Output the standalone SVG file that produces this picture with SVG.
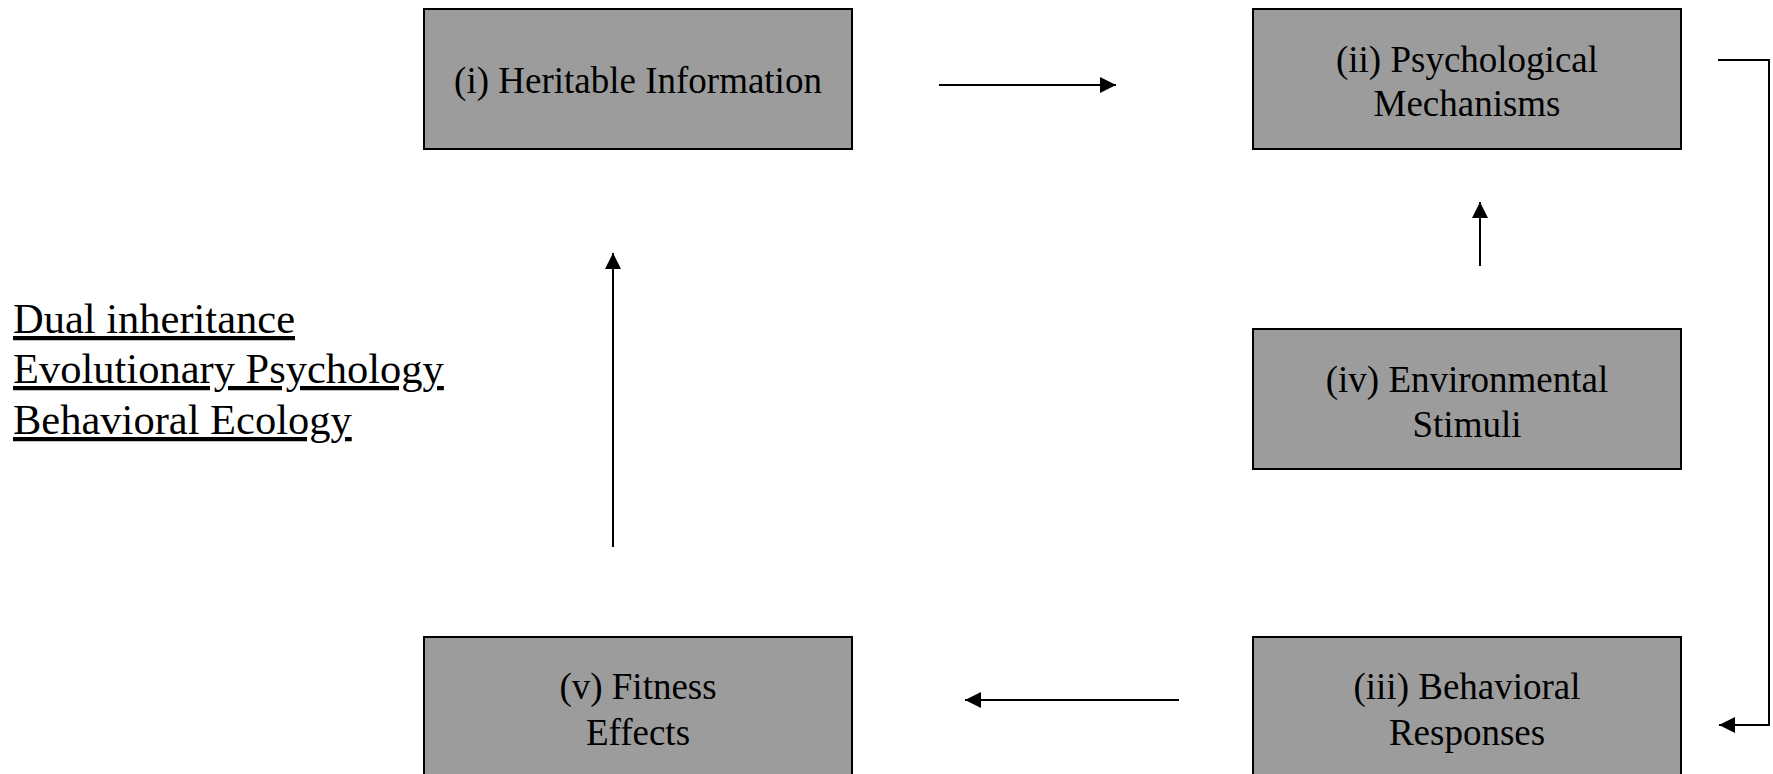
<svg xmlns="http://www.w3.org/2000/svg" width="1773" height="774" viewBox="0 0 1773 774">
<style>
.box{fill:#9c9c9c;stroke:#000;stroke-width:2}
.t{font-family:"Liberation Serif","Times New Roman",serif;font-size:37px;fill:#000;text-anchor:middle}
.side{font-family:"Liberation Serif","Times New Roman",serif;font-size:42.5px;fill:#000;text-decoration:underline}
.c{fill:none;stroke:#000;stroke-width:2}
</style>
<defs>
<marker id="ah" viewBox="0 0 16 16" refX="16" refY="8" markerWidth="16" markerHeight="16" markerUnits="userSpaceOnUse" orient="auto">
<path d="M0,0 L16,8 L0,16 z" fill="#000"/>
</marker>
</defs>
<rect width="1773" height="774" fill="#fff"/>
<g id="node-i">
<rect class="box" x="424" y="9" width="428" height="140"/>
<text class="t" x="638" y="93">(i) Heritable Information</text>
</g>
<g id="node-ii">
<rect class="box" x="1253" y="9" width="428" height="140"/>
<text class="t" x="1467" y="72">(ii) Psychological</text>
<text class="t" x="1467" y="116">Mechanisms</text>
</g>
<g id="node-iv">
<rect class="box" x="1253" y="329" width="428" height="140"/>
<text class="t" x="1467" y="392">(iv) Environmental</text>
<text class="t" x="1467" y="437">Stimuli</text>
</g>
<g id="node-v">
<rect class="box" x="424" y="637" width="428" height="140"/>
<text class="t" x="638" y="699">(v) Fitness</text>
<text class="t" x="638" y="745">Effects</text>
</g>
<g id="node-iii">
<rect class="box" x="1253" y="637" width="428" height="140"/>
<text class="t" x="1467" y="699">(iii) Behavioral</text>
<text class="t" x="1467" y="745">Responses</text>
</g>
<g id="legend">
<text class="side" x="13" y="333">Dual inheritance</text>
<text class="side" x="13" y="383">Evolutionary Psychology</text>
<text class="side" x="13" y="434">Behavioral Ecology</text>
</g>
<g id="connectors">
<line class="c" x1="939" y1="85" x2="1116" y2="85" marker-end="url(#ah)"/>
<polyline class="c" points="1718,60 1769,60 1769,725 1719,725" marker-end="url(#ah)"/>
<line class="c" x1="1179" y1="700" x2="965" y2="700" marker-end="url(#ah)"/>
<line class="c" x1="613" y1="547" x2="613" y2="253" marker-end="url(#ah)"/>
<line class="c" x1="1480" y1="266" x2="1480" y2="202" marker-end="url(#ah)"/>
</g>
</svg>
